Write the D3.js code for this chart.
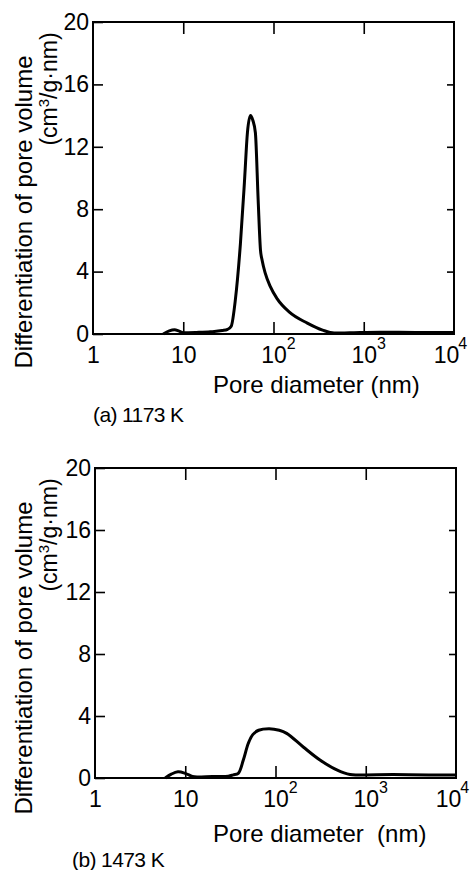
<!DOCTYPE html>
<html>
<head>
<meta charset="utf-8">
<script src="https://cdn.jsdelivr.net/npm/d3@7"></script>
<style>
  body { margin: 0; background: #fff; }
  svg { font-family: "Liberation Sans", Arial, sans-serif; }
</style>
</head>
<body>
<div id="chart"></div>
<script>
// pore size distributions
const poreDiamA = [6, 7, 8, 9, 10, 14, 20, 27, 31, 34, 37.8, 43, 47.6, 51.4, 55.5, 59, 63, 67.6, 71.7, 75, 81, 92, 110, 150, 237, 350, 470, 700, 1500, 4000, 10000];
const dvA       = [0, 0.2, 0.27, 0.18, 0.08, 0.1, 0.14, 0.22, 0.3, 0.5, 2.2, 5.8, 9.7, 12.9, 14.0, 13.7, 12.9, 8.6, 5.4, 4.7, 3.9, 3.05, 2.25, 1.4, 0.7, 0.25, 0.06, 0.08, 0.12, 0.1, 0.1];

const poreDiamB = [6, 7, 8.3, 10, 12, 13.5, 20, 30, 34, 38.7, 44, 50, 56, 65, 85, 110, 133, 203, 311, 478, 670, 900, 2000, 5000, 10000];
const dvB       = [0, 0.25, 0.4, 0.3, 0.1, 0.06, 0.1, 0.12, 0.2, 0.3, 1.16, 2.24, 2.8, 3.08, 3.18, 3.08, 2.88, 2.0, 1.16, 0.52, 0.22, 0.2, 0.22, 0.2, 0.2];

const yTicks = [0, 4, 8, 12, 16, 20];
const xTicks = [1, 10, 100, 1000, 10000];
const xExps  = ["", "", "2", "3", "4"];

const yTitle = "Differentiation of pore volume";
const panelNames = ["(a) 1173 K", "(b) 1473 K"];
const xTitles = ["Pore diameter (nm)", "Pore diameter  (nm)"];

const width = 471, height = 870;

const panels = [
  { d: poreDiamA, v: dvA, left: 93, right: 454, top: 22, bottom: 334, capX: 93, capY: 422, titleY: 393 },
  { d: poreDiamB, v: dvB, left: 95, right: 456, top: 468, bottom: 778, capX: 72, capY: 867, titleY: 842 }
];

const svg = d3.select("#chart")
  .append("svg")
  .attr("width", width)
  .attr("height", height);

panels.forEach((p, i) => {
  const x = d3.scaleLog()
    .domain([1, 10000])
    .range([p.left, p.right]);

  const y = d3.scaleLinear()
    .domain([0, 20])
    .range([p.bottom, p.top]);

  const g = svg.append("g");

  // left axis with labels, inward ticks
  const yAxis = g.append("g")
    .attr("transform", `translate(${p.left},0)`)
    .call(d3.axisLeft(y).tickValues(yTicks).tickSize(-10).tickPadding(4))
  yAxis.select(".domain").remove();
  yAxis.selectAll(".tick text").attr("font-size", 23).attr("fill", "#000").attr("font-family", "Liberation Sans");

  // right axis, no labels
  const yAxisR = g.append("g")
    .attr("transform", `translate(${p.right},0)`)
    .call(d3.axisRight(y).tickValues([4, 8, 12, 16]).tickSize(-7).tickFormat(""))
  yAxisR.select(".domain").remove();

  // bottom axis
  const xAxis = g.append("g")
    .attr("transform", `translate(0,${p.bottom})`)
    .call(d3.axisBottom(x).tickValues(xTicks).tickSize(-12).tickPadding(13).tickFormat(d => d < 100 ? d : "10"))
  xAxis.select(".domain").remove();
  xAxis.selectAll(".tick line").filter(d => d == 1 || d == 10000).remove();
  xAxis.selectAll(".tick text")
    .attr("font-size", 23).attr("fill", "#000").attr("font-family", "Liberation Sans")
    .attr("x", d => d == 10000 ? -8 : 0)
    .each(function(d, j) {
      if (!xExps[j]) return;
      const w = this.getComputedTextLength();
      d3.select(this.parentNode).append("text")
        .attr("x", w / 2 + (d == 10000 ? -9 : 0))
        .attr("y", 13)
        .attr("dy", "0.71em")
        .attr("transform", "translate(0,-9)")
        .attr("font-size", 16)
        .attr("font-family", "Liberation Sans")
        .attr("fill", "#000")
        .attr("text-anchor", "start")
        .text(xExps[j]);
    });

  // top axis
  const xAxisT = g.append("g")
    .attr("transform", `translate(0,${p.top})`)
    .call(d3.axisTop(x).tickValues([10, 100, 1000]).tickSize(-12).tickFormat(""))
  xAxisT.select(".domain").remove();

  g.selectAll(".tick line").attr("stroke", "#000").attr("stroke-width", 1.6);

  // frame
  g.append("rect")
    .attr("x", p.left)
    .attr("y", p.top)
    .attr("width", p.right - p.left)
    .attr("height", p.bottom - p.top)
    .attr("fill", "none")
    .attr("stroke", "#000")
    .attr("stroke-width", 2);

  // curve
  const pts = p.d.map((d, k) => [d, p.v[k]]);
  const line = d3.line()
    .x(d => x(d[0]))
    .y(d => y(d[1]))
    .curve(i == 0 ? d3.curveMonotoneX : d3.curveCatmullRom.alpha(0.5));

  g.append("path")
    .datum(pts)
    .attr("d", line)
    .attr("fill", "none")
    .attr("stroke", "#000")
    .attr("stroke-width", 3)
    .attr("stroke-linejoin", "round");

  // y title
  g.append("text")
    .attr("transform", `translate(32,${p.top + 190})rotate(-90)`)
    .attr("text-anchor", "middle")
    .attr("font-size", 24)
    .text(yTitle);

  const unit = g.append("text")
    .attr("transform", `translate(57,${p.top + 67})rotate(-90)`)
    .attr("text-anchor", "middle")
    .attr("font-size", 23);
  unit.append("tspan").text("(cm");
  unit.append("tspan").attr("font-size", 15).attr("dy", "-0.55em").text("3");
  unit.append("tspan").attr("dy", "0.36em").text("/g\u00b7nm)");

  // x title
  g.append("text")
    .attr("x", 213)
    .attr("y", p.titleY)
    .attr("font-size", 24)
    .style("white-space", "pre")
    .text(xTitles[i]);

  // panel caption
  g.append("text")
    .attr("x", p.capX)
    .attr("y", p.capY)
    .attr("font-size", 21)
    .attr("letter-spacing", -0.6)
    .text(panelNames[i]);
});
</script>
</body>
</html>
